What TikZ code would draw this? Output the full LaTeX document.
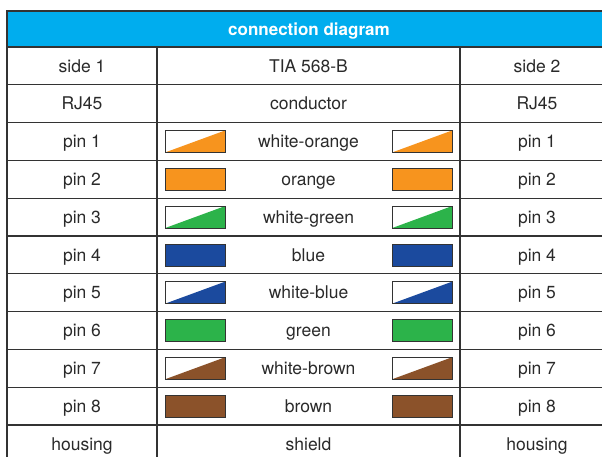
\documentclass[tikz,border=0pt]{standalone}
\usepackage{fontspec}
\setmainfont{TeX Gyre Heros}
\definecolor{headblue}{HTML}{00ADEE}
\definecolor{linegray}{HTML}{333333}
\definecolor{textgray}{HTML}{2A2A2A}
\definecolor{wireorange}{HTML}{F7941E}
\definecolor{wiregreen}{HTML}{2CB34A}
\definecolor{wireblue}{HTML}{1B4A9E}
\definecolor{wirebrown}{HTML}{8B522A}

\begin{document}
\begin{tikzpicture}[x=1pt, y=-1pt,
  grid/.style={draw=linegray, line width=1.2pt},
  cell/.style={text=textgray, font=\fontsize{17.5}{20}\selectfont, inner sep=0pt,
    text height=12.5pt, text depth=0pt},
  title/.style={text=white, font=\fontsize{17}{20}\selectfont\bfseries, inner sep=0pt,
    text height=12.5pt, text depth=0pt},
  swatch/.style 2 args={draw=linegray, line width=0.8pt, fill=white,
    minimum width=60pt, minimum height=22pt, inner sep=0pt,
    path picture={\ifnum#2=1
      \fill[#1] (path picture bounding box.south west) -- (path picture bounding box.south east)
        -- (path picture bounding box.north east) -- cycle;
      \else
      \fill[#1] (path picture bounding box.south west) rectangle (path picture bounding box.north east);
      \fi}}]
  \useasboundingbox (0,0) rectangle (602,457);
  \clip (0,0) rectangle (602,457);
  % header
  \fill[headblue] (7,11) rectangle (616,47);
  \node[title] (head) at (309,29) {connection diagram};
  % grid
  \draw[grid] (7,470) -- (7,11) -- (616,11);
  \foreach \k in {0,...,10} {
    \draw[grid] (7,47+37.8*\k) -- (616,47+37.8*\k);
  }
  \draw[grid] (157,47) -- (157,470);
  \draw[grid] (460,47) -- (460,470);
  % top rows
  \node[cell] (sidel) at (82,65.9) {side 1};
  \node[cell] (std) at (308.5,65.9) {TIA 568-B};
  \node[cell] (sider) at (537,65.9) {side 2};
  \node[cell] (rjl) at (82,103.7) {RJ45};
  \node[cell] (cond) at (308.5,103.7) {conductor};
  \node[cell] (rjr) at (537,103.7) {RJ45};
  % pins
  \foreach \i/\wire/\col/\half in {1/white-orange/wireorange/1, 2/orange/wireorange/0,
      3/white-green/wiregreen/1, 4/blue/wireblue/0, 5/white-blue/wireblue/1,
      6/green/wiregreen/0, 7/white-brown/wirebrown/1, 8/brown/wirebrown/0} {
    \pgfmathsetmacro{\y}{47+37.8*(\i+1.5)}
    \node[cell] (pinl\i) at (82,\y) {pin \i};
    \node[swatch={\col}{\half}] (swl\i) at (195,\y) {};
    \node[cell] (wire\i) at (308.5,\y) {\wire};
    \node[swatch={\col}{\half}] (swr\i) at (422,\y) {};
    \node[cell] (pinr\i) at (537,\y) {pin \i};
  }
  % shield row
  \node[cell] (houl) at (82,443.9) {housing};
  \node[cell] (shield) at (308.5,443.9) {shield};
  \node[cell] (hour) at (537,443.9) {housing};
\end{tikzpicture}
\end{document}
